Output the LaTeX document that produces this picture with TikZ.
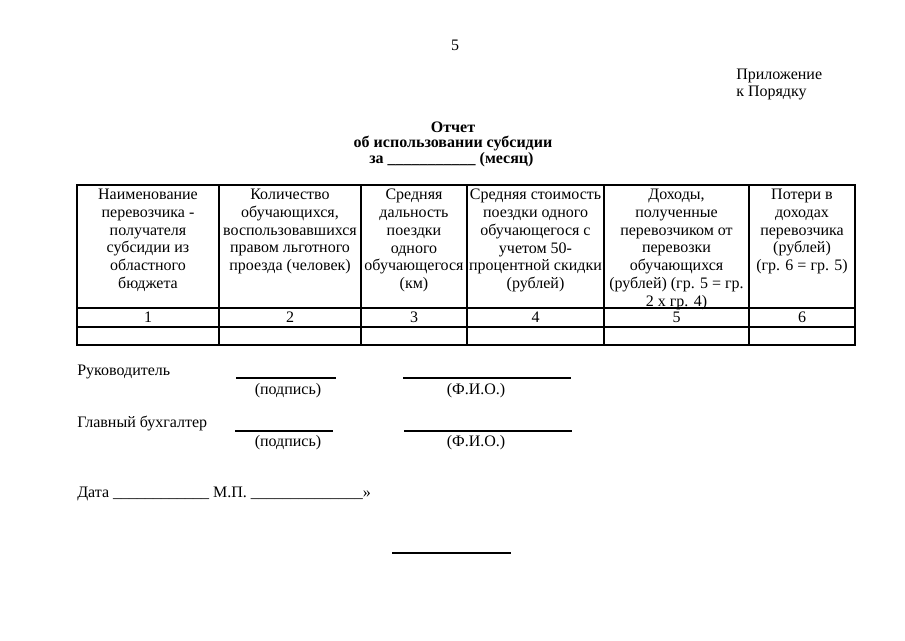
\documentclass[tikz,border=0pt]{standalone}
\usepackage{fontspec}
\setmainfont{Liberation Serif}

\begin{document}
\begin{tikzpicture}[x=0.75pt, y=-0.75pt,
        every node/.style={font=\fontsize{12}{13.8}\selectfont, inner sep=0pt},
        cell/.style={anchor=north, align=center, font=\fontsize{12}{13.3}\selectfont},
        num/.style={anchor=base},
        rule/.style={line width=0.8pt}]

        \useasboundingbox (0, 0) rectangle (905, 640);

        % header of the page
        \node[anchor=base] (page) at (455, 50) {5};
        \node[anchor=base west] (app1) at (736, 79) {Приложение};
        \node[anchor=base west] (app2) at (736, 96) {к Порядку};

        \node[anchor=base, font=\fontsize{12}{13.8}\selectfont\bfseries] (title1) at (453, 132) {Отчет};
        \node[anchor=base, font=\fontsize{12}{13.8}\selectfont\bfseries] (title2) at (453, 147) {об использовании субсидии};
        \node[anchor=base west, font=\fontsize{12}{13.8}\selectfont\bfseries] (title3) at (369, 163)
            {за \_\_\_\_\_\_\_\_\_\_\_ (месяц)};

        % table grid
        \draw[rule] (77, 185) rectangle (855, 345);
        \foreach \x in {219, 361, 467, 604, 749}
            \draw[rule] (\x, 185) -- (\x, 345);
        ;
        \foreach \y in {308, 327}
            \draw[rule] (77, \y) -- (855, \y);
        ;

        % column heads
        \node[cell] (head1) at (148, 189)
            {Наименование\\перевозчика -\\получателя\\субсидии из\\областного\\бюджета};
        \node[cell] (head2) at (290, 189)
            {Количество\\обучающихся,\\воспользовавшихся\\правом льготного\\проезда (человек)};
        \node[cell] (head3) at (414, 189)
            {Средняя\\дальность\\поездки\\одного\\обучающегося\\(км)};
        \node[cell] (head4) at (535.5, 189)
            {Средняя стоимость\\поездки одного\\обучающегося с\\учетом 50-\\процентной скидки\\(рублей)};
        \node[cell] (head5) at (676.5, 189)
            {Доходы,\\полученные\\перевозчиком от\\перевозки\\обучающихся\\(рублей) (гр. 5 = гр.\\2 x гр. 4)};
        \node[cell] (head6) at (802, 189)
            {Потери в\\доходах\\перевозчика\\(рублей)\\(гр. 6 = гр. 5)};

        % column numbers
        \foreach \x/\n in {148/1, 290/2, 414/3, 535.5/4, 676.5/5, 802/6}
            \node[num] (num\n) at (\x, 322) {\n};
        ;

        % signatures
        \node[anchor=base west] (boss) at (77, 375) {Руководитель};
        \draw[rule] (236, 378) -- (336, 378);
        \draw[rule] (403, 378) -- (571, 378);
        \node[anchor=base] (sign1) at (288, 394) {(подпись)};
        \node[anchor=base] (fio1) at (476, 394) {(Ф.И.О.)};

        \node[anchor=base west] (accnt) at (77, 427) {Главный бухгалтер};
        \draw[rule] (235, 431) -- (333, 431);
        \draw[rule] (404, 431) -- (572, 431);
        \node[anchor=base] (sign2) at (288, 446) {(подпись)};
        \node[anchor=base] (fio2) at (476, 446) {(Ф.И.О.)};

        \node[anchor=base west] (date) at (77, 497)
            {Дата \_\_\_\_\_\_\_\_\_\_\_\_ М.П. \_\_\_\_\_\_\_\_\_\_\_\_\_\_»};

        \draw[rule] (392, 553) -- (511, 553);
    \end{tikzpicture}
\end{document}
